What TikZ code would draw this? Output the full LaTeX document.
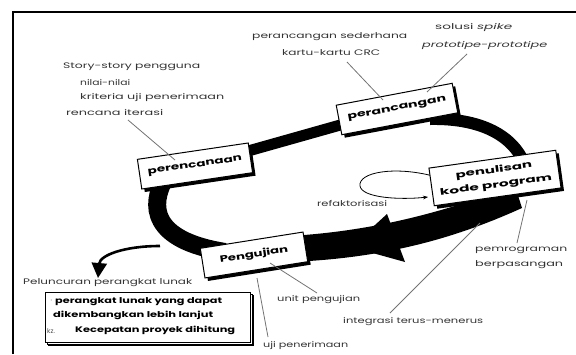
\documentclass[tikz,border=0pt]{standalone}
\usepackage{fontspec}
\usepackage{graphicx}
\setmainfont{Poppins}
\usetikzlibrary{shadows,arrows.meta}
\newcommand{\fw}[2]{\resizebox{#1pt}{\height}{#2}}
\begin{document}
\begin{tikzpicture}[x=1pt,y=-1pt,
  ann/.style={font=\fontsize{8}{9}\selectfont, text=black!80, inner sep=0pt, anchor=west},
  lead/.style={draw=black!55, line width=0.8pt},
  stagebox/.style={draw, line width=1pt, fill=white, minimum height=30pt, align=center,
    font=\fontsize{9}{15}\selectfont\bfseries, inner xsep=5pt,
    drop shadow={opacity=1,fill=black,shadow xshift=3pt,shadow yshift=-3pt}},
  boxtext/.style={inner sep=0pt, anchor=west, font=\fontsize{8}{9}\selectfont\bfseries},
  band/.style={line width=11pt, draw=black},
]
\useasboundingbox (0,0) rectangle (576,354);
\draw[line width=1.6pt] (13,354) -- (13,12) -- (576,12);

% coordinates for band ends
\coordinate (a1) at (195,166);
\coordinate (b1) at (397,109);
\coordinate (b2) at (430,119);
\coordinate (c1) at (526,168);
\coordinate (a2) at (165,178);
\coordinate (d1) at (225,252);
\coordinate (fork) at (160,246);
\coordinate (rel) at (98,278);

% bands
\draw[band] (a1) -- (b1);
\draw[band, line width=12pt] (b2) .. controls (480,118) and (515,135) .. (c1);
\draw[band, line width=18pt] (a2) .. controls (150,205) and (150,240) .. (d1);
\fill[black] (515,186) .. controls (460,205) and (390,230) .. (290,236)
  -- (290,262) .. controls (390,258) and (460,236) .. (522,208) -- cycle;
\fill[black] (351,247) -- (387,214) -- (405,262) -- cycle;
\draw[line width=2.6pt, -{Triangle[length=15pt,width=15pt]}] (fork) .. controls (125,246) and (100,255) .. (rel);

% refactoring loop
\draw[line width=0.8pt, -{Stealth[length=5pt]}] (433,176) .. controls (395,166) and (358,172) .. (360,186)
  .. controls (362,198) and (400,200) .. (428,197);

% stage boxes
\node[stagebox, rotate=8.4, minimum width=112pt] (A) at (195,166) {\fw{95}{perencanaan}};
\node[stagebox, rotate=10.7, minimum width=118pt] (B) at (397,109) {\fw{100}{perancangan}};
\node[stagebox, rotate=8, minimum width=128pt, minimum height=38pt] (C) at (495,178) {\fw{77}{penulisan}\\\fw{113}{kode program}};
\node[stagebox, rotate=9, minimum width=104pt] (D) at (254,255) {\fw{69}{Pengujian}};

% annotations
\node[ann] (t1) at (63,67) {\fw{137}{Story-story pengguna}};
\node[ann] (t2) at (80,82) {\fw{50}{nilai-nilai}};
\node[ann] (t3) at (80,97) {\fw{144}{kriteria uji penerimaan}};
\node[ann] (t4) at (66,112) {\fw{97}{rencana iterasi}};
\node[ann] (t5) at (252,37) {\fw{155}{perancangan sederhana}};
\node[ann] (t6) at (282,53) {\fw{98}{kartu-kartu CRC}};
\node[ann] (t7) at (435,27) {\fw{77}{solusi \textit{spike}}};
\node[ann] (t8) at (422,45) {\fw{125}{\itshape prototipe-prototipe}};
\node[ann] (t9) at (317,203) {\fw{70}{refaktorisasi}};
\node[ann] (t10a) at (475,250) {\fw{92}{pemrograman}};
\node[ann] (t10b) at (475,265) {\fw{88}{berpasangan}};
\node[ann] (t11) at (277,300) {\fw{83}{unit pengujian}};
\node[ann] (t12) at (343,322) {\fw{140}{integrasi terus-menerus}};
\node[ann] (t13) at (263,345) {\fw{85}{uji penerimaan}};
\node[ann] (t14) at (23,283) {\fw{169}{Peluncuran perangkat lunak}};

% result box
\node[draw, line width=1pt, anchor=north west, minimum width=205pt, minimum height=50pt,
  double copy shadow={opacity=1,shadow xshift=1.5pt,shadow yshift=-1.5pt}, fill=white] (R) at (45,292) {};
\node[boxtext] (r0) at (50,301) {$\cdot$};
\node[boxtext] (r1) at (55,302) {\fw{167}{perangkat lunak yang dapat}};
\node[boxtext] (r2) at (53,315) {\fw{160}{dikembangkan lebih lanjut}};
\node[inner sep=0pt, anchor=west, font=\fontsize{6.5}{7}\selectfont, text=black!70] (r3) at (47,331) {kz.};
\node[boxtext] (r4) at (75,330) {\fw{160}{Kecepatan proyek dihitung}};

% leaders
\draw[lead] (128,120) -- (175,160);
\draw[lead] (347,62) -- (383,100);
\draw[lead] (467,54) -- (427,92);
\draw[lead] (317,293) -- (270,263);
\draw[lead] (268,337) -- (257,278);
\draw[lead] (390,313) -- (480,223);
\draw[lead] (517,243) -- (527,200);
\end{tikzpicture}
\end{document}
